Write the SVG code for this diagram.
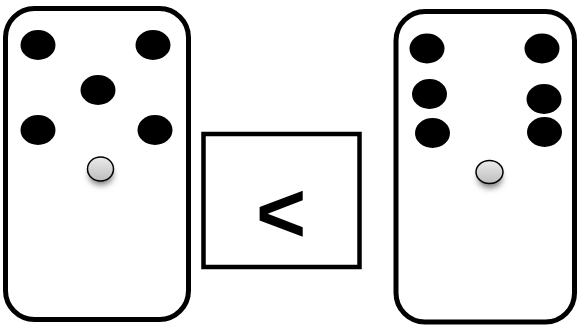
<svg xmlns="http://www.w3.org/2000/svg" width="580" height="327" viewBox="0 0 580 327">
<style>
.card{fill:#fff;stroke:#000;stroke-width:5}
.dot{fill:#000}
.pip{fill:url(#g);stroke:#000;stroke-width:1.5}
.box{fill:#fff;stroke:#000;stroke-width:4.5}
.sym{font-family:"Liberation Sans",Arial,sans-serif;font-weight:bold;font-size:86px;fill:#000}
</style>
<defs>
<linearGradient id="g" x1="0" y1="0" x2="0" y2="1">
<stop offset="0" stop-color="#ececec"/>
<stop offset="1" stop-color="#bdbdbd"/>
</linearGradient>
<filter id="sh" x="-1" y="-1" width="3" height="3">
<feGaussianBlur stdDeviation="3"/>
</filter>
</defs>
<g id="left-domino">
<rect class="card" x="5.5" y="8.5" width="183" height="311" rx="29"/>
<ellipse class="dot" cx="38" cy="45" rx="17.5" ry="15"/>
<ellipse class="dot" cx="153" cy="45" rx="17.5" ry="15"/>
<ellipse class="dot" cx="98" cy="90" rx="17.5" ry="15"/>
<ellipse class="dot" cx="38" cy="130" rx="17.5" ry="15"/>
<ellipse class="dot" cx="155" cy="130" rx="17.5" ry="15"/>
<ellipse cx="101" cy="175" rx="12" ry="10" fill="#777" filter="url(#sh)"/>
<ellipse class="pip" cx="100.5" cy="169" rx="13" ry="12"/>
</g>
<g id="compare-box">
<rect class="box" x="203.5" y="134" width="156" height="133"/>
<text class="sym" x="281" y="242" text-anchor="middle">&lt;</text>
</g>
<g id="right-domino">
<rect class="card" x="396" y="11.5" width="178.5" height="310.5" rx="29"/>
<ellipse class="dot" cx="427" cy="48.5" rx="17.5" ry="15"/>
<ellipse class="dot" cx="542" cy="48.5" rx="17.5" ry="15"/>
<ellipse class="dot" cx="429.5" cy="94" rx="17.5" ry="15"/>
<ellipse class="dot" cx="544" cy="99" rx="17.5" ry="15"/>
<ellipse class="dot" cx="432.5" cy="133" rx="17.5" ry="15"/>
<ellipse class="dot" cx="544.5" cy="132" rx="17.5" ry="15"/>
<ellipse cx="490" cy="178" rx="12" ry="10" fill="#777" filter="url(#sh)"/>
<ellipse class="pip" cx="489.5" cy="172" rx="13.5" ry="11.5"/>
</g>
<g id="connectors"/>
</svg>
